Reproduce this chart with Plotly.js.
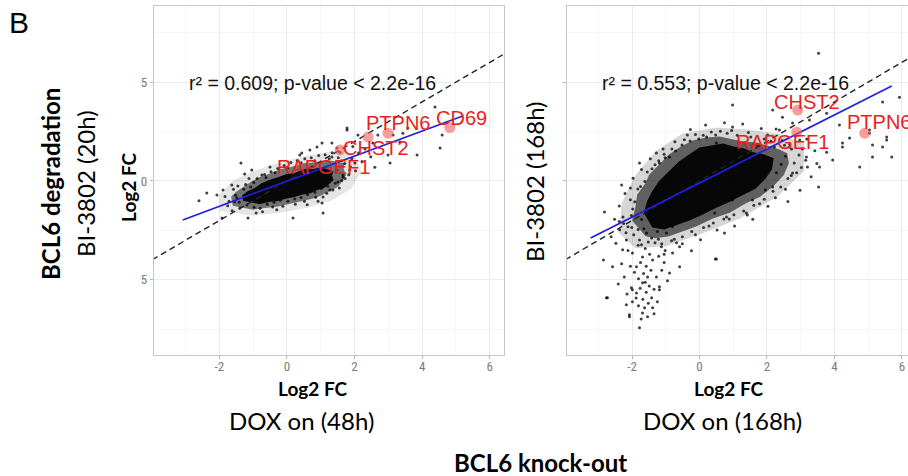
<!DOCTYPE html>
<html>
<head>
<meta charset="utf-8">
<script src="https://cdn.plot.ly/plotly-3.0.1.min.js"></script>
<style>
html,body{margin:0;padding:0;overflow:hidden;background:#fff;width:908px;height:476px;}
#chart{width:916px;height:476px;}
</style>
</head>
<body>
<div id="chart"></div>
<script>
// ---------------- DATA ----------------
const xTickVals = [-2, 0, 2, 4, 6];
const xTickText = ['-2', '0', '2', '4', '6'];
const yTickVals = [-5, 0, 5];
const yTickText = ['5', '0', '5'];

// Panel 1: DOX on (48h) vs BI-3802 (20h)
const leftStat = 'r² = 0.609; p-value < 2.2e-16';
const leftFitX = [-3.08, 5.18];
const leftFitY = [-1.97, 3.28];
const identityX = [-5, 8];
const identityY = [-5, 8];
// outlines of the region where the points merge into a solid cloud
const leftCore = [[-1.3,-1.0],[-1.05,-1.1],[-0.8,-1.18],[-0.5,-1.05],[-0.3,-1.02],[0.0,-0.88],[0.2,-0.82],[0.45,-0.7],[0.7,-0.62],[0.9,-0.45],[1.1,-0.36],[1.25,-0.15],[1.38,0.05],[1.33,0.3],[1.38,0.48],[1.15,0.62],[1.0,0.68],[0.75,0.6],[0.5,0.6],[0.25,0.42],[0.0,0.36],[-0.25,0.2],[-0.5,0.06],[-0.75,-0.12],[-0.95,-0.36],[-1.15,-0.5],[-1.32,-0.72]];
const leftMid = [[-1.6,-1.25],[-1.25,-1.35],[-1.0,-1.45],[-0.6,-1.35],[-0.3,-1.3],[0.1,-1.15],[0.4,-1.05],[0.75,-0.9],[1.0,-0.75],[1.3,-0.5],[1.5,-0.3],[1.65,0.0],[1.75,0.3],[1.68,0.62],[1.7,0.9],[1.45,0.98],[1.2,1.05],[0.85,0.95],[0.5,0.9],[0.15,0.72],[-0.2,0.6],[-0.5,0.38],[-0.8,0.2],[-1.05,-0.02],[-1.3,-0.3],[-1.5,-0.55],[-1.65,-0.8]];
const leftOuter = [[-2.0,-1.5],[-1.1,-1.75],[-0.2,-1.6],[0.6,-1.35],[1.3,-1.0],[1.9,-0.4],[2.2,0.5],[2.0,1.35],[1.3,1.5],[0.5,1.25],[-0.3,0.9],[-1.0,0.5],[-1.6,0.0],[-2.0,-0.7]];
// individual genes outside the dense core
const leftPts = [[-2.37,-0.61],[-2.07,-0.71],[-1.89,-0.45],[-1.92,-1.87],[-1.39,-1.36],[-1.36,0.91],[-1.04,0.56],[-1.63,-0.2],[-1.48,-0.86],[-0.74,0.3],[-0.5,0.71],[0.18,-1.87],[-1.15,-1.87],[1.07,-0.81],[1.04,-1.11],[1.36,-0.45],[1.51,-0.05],[1.66,0.2],[1.04,1.92],[1.33,1.92],[0.68,1.57],[0.44,1.41],[0.89,1.72],[1.48,1.67],[1.86,0.56],[2.01,0.91],[1.07,-1.62],[1.78,2.58],[2.1,2.32],[2.54,1.92],[2.99,1.31],[3.85,1.31],[4.53,1.67],[3.58,2.68],[3.14,2.32],[1.57,1.46],[1.33,1.21],[1.48,0.56],[1.66,0.3],[1.27,-0.45],[3.05,0.91],[4.59,2.32],[1.78,2.68],[3.43,2.42],[3.34,1.97],[2.69,2.32],[4.38,3.74],
[-1.52,-0.72],[-1.41,-1.08],[-1.28,-0.42],[-1.18,-1.22],[-1.07,-0.31],[-0.97,-1.33],[-0.88,0.12],[-0.79,-1.38],[-0.66,0.33],[-0.58,-1.17],[-0.47,0.47],[-0.38,-1.08],[-0.27,0.63],[-0.19,-0.98],[-0.08,0.78],[0.03,-1.02],[0.12,0.93],[0.23,-0.91],[0.31,1.04],[0.42,-0.83],[0.53,1.12],[0.61,-0.68],[0.72,1.18],[0.83,-0.57],[0.94,1.29],[1.02,-0.38],[1.13,1.33],[1.21,-0.27],[1.34,1.43],[1.43,-0.12],[1.52,1.18],[1.62,0.03],[1.71,0.88],[1.83,0.31],[1.92,1.12],[2.03,0.52],[2.12,1.41],[2.22,0.98],[2.31,1.62],[2.48,1.22],[-1.71,-1.02],[-1.83,-0.78],[-1.62,-1.51],[-0.91,-1.62],[0.38,1.31],[0.92,-1.02],[-2.6,-1.0],[-0.3,-1.45],[0.6,-1.2],[2.6,0.7],[-1.25,0.35],[1.95,1.75],
[-1.75,-1.25],[-1.55,-1.05],[-1.45,-0.25],[-1.12,0.12],[-0.72,-1.55],[-0.42,-1.32],[-0.12,-1.28],[0.25,-1.18],[0.52,-1.02],[0.85,-0.82],[1.18,-0.62],[1.55,-0.35],[1.72,0.12],[1.88,0.72],[1.62,1.02],[1.25,1.12],[0.82,1.02],[0.42,0.92],[0.02,0.66],[-0.35,0.42],[-0.62,0.18],[-0.98,-0.08],[-1.22,-0.18],[-1.58,-0.42]];
const leftGenes = ['CD69', 'PTPN6', 'PTPN6', 'CHST2'];
const leftGeneX = [4.82, 2.99, 2.40, 1.57];
const leftGeneY = [2.70, 2.42, 2.22, 1.57];
const leftLabels = ['CD69', 'PTPN6', 'CHST2', 'RAPGEF1'];
const leftLabelX = [5.15, 3.28, 2.63, 1.07];
const leftLabelY = [3.18, 2.93, 1.67, 0.71];

// Panel 2: DOX on (168h) vs BI-3802 (168h)
const rightStat = 'r² = 0.553; p-value < 2.2e-16';
const rightFitX = [-3.23, 5.70];
const rightFitY = [-2.88, 4.80];
const rightCore = [[-1.65,-1.6],[-1.55,-1.0],[-1.4,-0.5],[-1.2,0.0],[-0.9,0.5],[-0.6,1.0],[-0.3,1.35],[0.0,1.7],[0.35,1.8],[0.7,1.9],[1.0,1.75],[1.3,1.65],[1.6,1.45],[1.9,1.35],[2.2,1.15],[2.15,0.6],[1.95,0.1],[1.65,-0.4],[1.3,-0.7],[0.9,-1.05],[0.5,-1.35],[0.1,-1.7],[-0.3,-2.0],[-0.7,-2.25],[-1.05,-2.45],[-1.4,-2.35]];
const rightMid = [[-2.0,-2.0],[-1.9,-1.3],[-1.85,-0.7],[-1.6,-0.1],[-1.5,0.3],[-1.2,0.85],[-0.9,1.35],[-0.55,1.75],[-0.2,2.05],[0.2,2.2],[0.6,2.25],[1.0,2.1],[1.3,2.0],[1.7,1.95],[2.0,1.8],[2.35,1.6],[2.6,1.4],[2.65,0.9],[2.5,0.3],[2.2,-0.25],[1.8,-0.8],[1.35,-1.15],[0.9,-1.6],[0.4,-1.9],[-0.1,-2.3],[-0.5,-2.55],[-0.9,-2.8],[-1.3,-2.9],[-1.6,-2.8]];
const rightOuter = [[-2.4,-2.6],[-2.3,-1.1],[-1.9,0.3],[-1.3,1.5],[-0.5,2.4],[0.5,2.7],[1.4,2.6],[2.3,2.4],[3.1,1.9],[3.1,0.5],[2.3,-0.8],[1.2,-1.9],[0.0,-2.7],[-1.0,-3.3],[-1.9,-3.4]];
const rightPts = [[0.98,3.84],[3.53,6.46],[2.17,3.59],[2.46,3.23],[3.26,3.08],[3.77,3.43],[4.15,2.83],[4.45,2.17],[4.24,1.72],[5.13,1.82],[5.55,2.07],[5.43,3.99],[5.93,4.24],[5.70,1.21],[3.95,1.06],[3.56,0.71],[3.17,1.21],[2.67,1.72],[2.76,2.93],[2.37,2.58],[2.97,2.07],[4.75,0.71],[5.04,2.58],
[3.53,-0.30],[2.17,-0.3],[2.76,0.40],[3.2,0.71],[1.57,-0.96],[1.39,-1.62],[0.98,-0.96],[0.47,-3.94],[0.80,-1.82],[3.77,1.46],[4.24,1.92],[5.43,1.72],[5.13,1.21],[5.55,2.22],[5.04,2.42],
[-2.31,-0.2],[-2.82,-1.57],[-1.78,0.91],[-1.19,0.91],[-0.89,1.21],[-0.36,2.32],[0.21,2.22],[0.98,2.73],[0.5,1.92],
[-2.58,-4.34],[-2.76,-5.9],[-2.08,-6.77],[-1.78,-7.42],[-1.63,-6.41],[-1.39,-6.41],[-1.25,-6.11],[-0.89,-4.65],[-0.80,-3.64],[-0.59,-3.33],[-2.23,-4.85],[-2.02,-5.4],[-1.87,-4.34],[-1.69,-3.84],[-1.54,-4.85],[-1.39,-3.99],[-1.13,-3.33],[-1.78,-2.98],[-2.17,-2.98],[-1.99,-3.64],[-1.87,-5.66],[-1.69,-5.15],[-1.19,-5.35],[-1.42,-5.9],[-2.17,-6.26],[-1.99,-6.11],[-1.54,-6.87],[-1.28,-4.85],[-1.57,-2.63],[-2.37,-2.47],[-0.98,-2.63],[-0.80,-2.32],[-0.39,-1.97],[0,-1.62],[0.45,-1.62],
[-2.28,-3.48],[-1.99,-5.5],[-1.69,-6.67],[-2.08,-6.87],[-2.85,-3.99],[-2.73,-5.9],[-1.19,-5.5],[-0.59,-4.34],[0.50,-3.94],[0.74,-2.63],[-0.24,-3.53],
[-1.82,-3.25],[-1.61,-3.42],[-1.48,-3.71],[-1.75,-4.12],[-1.58,-4.31],[-1.93,-4.62],[-1.66,-4.68],[-1.44,-4.52],[-1.81,-4.95],[-1.61,-5.12],[-1.49,-5.31],[-1.76,-5.42],[-1.58,-5.63],[-1.35,-5.48],[-1.88,-5.92],[-1.68,-5.98],[-1.52,-6.18],[-1.81,-6.31],[-1.32,-3.12],[-1.21,-3.81],[-1.05,-4.12],[-2.12,-3.52],[-2.31,-4.18],[-2.05,-4.31],[-2.41,-5.21],[-2.15,-5.71],[-1.42,-2.88],[-1.95,-2.72],[-1.65,-2.41],[-2.01,-2.35],[-1.25,-2.55],[-0.75,-2.95],[-1.05,-3.71],[-1.73,-6.98],[-1.35,-6.72],[-2.48,-3.15],[-2.62,-2.82],[-2.25,-2.15],[-1.12,-4.52],[-0.95,-5.05],
[-2.52,-1.93],[-2.38,-1.27],[-2.21,-0.63],[-1.97,0.14],[-1.72,0.58],[-1.46,1.13],[-1.08,1.62],[-0.73,1.98],[-0.27,2.61],[0.18,2.83],[0.74,2.94],[1.28,2.88],[1.83,2.66],[2.27,2.63],[2.84,2.27],[3.18,2.12],[3.42,1.53],[3.48,0.88],[3.31,0.22],[2.98,-0.47],[2.62,-1.04],[2.03,-1.28],[1.58,-1.93],[1.04,-2.27],[0.52,-2.48],[0.03,-2.97],[-0.51,-3.18],[-1.02,-3.52],
[-2.12,-2.31],[-1.98,-1.42],[-1.83,-0.41],[-1.41,0.62],[-1.02,1.18],[-0.52,1.82],[0.11,2.31],[0.82,2.42],[1.52,2.22],[2.12,2.01],[2.73,1.62],[2.81,0.91],[2.62,0.12],[2.18,-0.52],[1.61,-1.23],[1.02,-1.71],[0.41,-2.12],[-0.23,-2.55],[-0.83,-3.02],[-1.52,-3.08],
[-2.27,-1.82],[-2.05,-0.95],[-1.62,-0.02],[-1.21,1.02],[-0.71,1.52],[-0.02,2.12],[0.62,2.52],[1.12,2.31],[1.92,2.13],[2.52,1.81],[2.95,1.31],[2.88,0.42],[2.41,-0.31],[1.92,-0.92],[1.31,-1.52],[0.72,-1.92],[0.12,-2.35],[-0.51,-2.82],[-1.22,-2.95],
[-2.18,-2.62],[-2.02,-1.75],[-1.92,-1.05],[-1.75,-0.28],[-1.55,0.45],[-1.32,0.82],[-1.05,1.35],[-0.82,1.62],[-0.45,2.08],[-0.12,2.35],[0.35,2.48],[0.95,2.55],[1.45,2.45],[2.02,2.32],[2.45,2.05],[2.68,1.85],[3.05,1.62],[3.15,1.05],[3.02,0.68],[2.72,0.28],[2.55,-0.42],[2.25,-0.85],[1.78,-1.15],[1.42,-1.72],[0.88,-1.92],[0.28,-2.28],[-0.12,-2.72],[-0.68,-3.12],[-1.12,-3.18],[-1.72,-3.22],
[2.42,0.85],[2.55,1.25],[2.28,0.42],[1.95,-0.45],[-1.72,-1.95],[-1.82,-2.45],[-2.38,-2.05],[-2.05,-0.35],[-1.28,1.42],[-0.28,2.02],[0.48,2.32],[1.72,1.82],[2.22,1.72]];
const rightGenes = ['CHST2', 'PTPN6', 'RAPGEF1'];
const rightGeneX = [2.91, 4.90, 2.88];
const rightGeneY = [3.59, 2.42, 2.47];
const rightLabels = ['CHST2', 'PTPN6', 'RAPGEF1'];
const rightLabelX = [3.18, 5.31, 2.46];
const rightLabelY = [3.99, 2.98, 1.97];

// ---------------- TRACES ----------------
const W = 916, H = 476;
const px = v => v / W;
const py = v => 1 - v / H;

function hull(pts, xa, ya, fill) {
  return {x: pts.map(p => p[0]).concat([pts[0][0]]), y: pts.map(p => p[1]).concat([pts[0][1]]),
    xaxis: xa, yaxis: ya, mode: 'lines', fill: 'toself', fillcolor: fill,
    line: {width: 0, color: 'rgba(0,0,0,0)'}, hoverinfo: 'skip', showlegend: false, type: 'scatter'};
}
function dots(pts, xa, ya) {
  return {x: pts.map(p => p[0]), y: pts.map(p => p[1]), xaxis: xa, yaxis: ya, mode: 'markers',
    marker: {size: 3, color: 'rgba(0,0,0,0.75)'}, showlegend: false, type: 'scatter'};
}
function line(xs, ys, xa, ya, color, dash, width) {
  return {x: xs, y: ys, xaxis: xa, yaxis: ya, mode: 'lines', line: {color: color, dash: dash, width: width},
    showlegend: false, type: 'scatter', hoverinfo: 'skip'};
}
function genes(xs, ys, names, xa, ya) {
  return {x: xs, y: ys, text: names, xaxis: xa, yaxis: ya, mode: 'markers',
    marker: {size: 11, color: 'rgba(245,90,90,0.6)'}, showlegend: false, type: 'scatter'};
}

const traces = [
  hull(leftOuter, 'x', 'y', 'rgba(0,0,0,0.1)'),
  hull(leftMid, 'x', 'y', 'rgba(0,0,0,0.5)'),
  hull(leftCore, 'x', 'y', 'rgba(0,0,0,0.93)'),
  dots(leftPts, 'x', 'y'),
  line(identityX, identityY, 'x', 'y', '#222', '6px,4px', 1.4),
  line(leftFitX, leftFitY, 'x', 'y', '#1f1fe0', 'solid', 1.6),
  genes(leftGeneX, leftGeneY, leftGenes, 'x', 'y'),
  hull(rightOuter, 'x2', 'y2', 'rgba(0,0,0,0.16)'),
  hull(rightMid, 'x2', 'y2', 'rgba(0,0,0,0.55)'),
  hull(rightCore, 'x2', 'y2', 'rgba(0,0,0,0.93)'),
  dots(rightPts, 'x2', 'y2'),
  line(identityX, identityY, 'x2', 'y2', '#222', '6px,4px', 1.4),
  line(rightFitX, rightFitY, 'x2', 'y2', '#1f1fe0', 'solid', 1.6),
  genes(rightGeneX, rightGeneY, rightGenes, 'x2', 'y2')
];

// ---------------- LAYOUT ----------------
const tickFont = {family: 'Liberation Sans Narrow, Roboto Condensed, Liberation Sans, sans-serif', size: 13, color: '#7a7a7a'};
function xAxis(domain, anchor) {
  return {domain: domain, anchor: anchor, range: [-3.93, 6.42], tickmode: 'array', tickvals: xTickVals, ticktext: xTickText,
    ticks: 'outside', ticklen: 3, tickcolor: '#b5b5b5', tickfont: tickFont, ticklabelstandoff: -4,
    showgrid: true, gridcolor: '#ececec', gridwidth: 1,
    minor: {tickmode: 'array', tickvals: [-3, -1, 1, 3, 5], showgrid: true, gridcolor: '#f6f6f6', ticks: ''},
    zeroline: false, showline: true, mirror: true, linecolor: '#c6c6c6', linewidth: 1.2};
}
function yAxis(domain, anchor, labels) {
  return {domain: domain, anchor: anchor, range: [-8.8, 8.85], tickmode: 'array', tickvals: yTickVals, ticktext: yTickText,
    showticklabels: labels, ticks: 'outside', ticklen: 3, tickcolor: '#b5b5b5', tickfont: tickFont, showgrid: true, gridcolor: '#ececec',
    minor: {tickmode: 'array', tickvals: [-7.5, -2.5, 2.5, 7.5], showgrid: true, gridcolor: '#f6f6f6', ticks: ''},
    zeroline: false, showline: true, mirror: true, linecolor: '#c6c6c6', linewidth: 1.2};
}
const yDom = [py(355), py(6)];

const red = 'rgb(235,30,30)';
const labelFont = {family: 'Liberation Sans, Arial, sans-serif', size: 20, color: red};
const statFont = {family: 'Liberation Sans, Arial, sans-serif', size: 19.5, color: '#111'};
const boldFont = s => ({family: 'Lato, Open Sans, sans-serif', size: s, color: '#000', weight: 'bold'});
const regFont = s => ({family: 'Lato, Open Sans, sans-serif', size: s, color: '#000'});

const annotations = [];
leftLabels.forEach((t, i) => annotations.push({x: leftLabelX[i], y: leftLabelY[i], xref: 'x', yref: 'y', text: t, showarrow: false, xanchor: 'center', yanchor: 'middle', font: labelFont}));
rightLabels.forEach((t, i) => annotations.push({x: rightLabelX[i], y: rightLabelY[i], xref: 'x2', yref: 'y2', text: t, showarrow: false, xanchor: 'center', yanchor: 'middle', font: labelFont}));
function paperText(x, y, text, font, angle) {
  annotations.push({x: px(x), y: py(y), xref: 'paper', yref: 'paper', text: text, showarrow: false,
    xanchor: 'center', yanchor: 'middle', textangle: angle || 0, font: font});
}
paperText(312, 83, leftStat, statFont);
paperText(725, 83, rightStat, statFont);
paperText(19, 22, 'B', {family: 'Liberation Sans, Arial, sans-serif', size: 30, color: '#000'});
paperText(51, 184, 'BCL6 degradation', boldFont(24), -90);
paperText(86, 184, 'BI-3802 (20h)', regFont(24), -90);
paperText(129, 187, 'Log2 FC', boldFont(19), -90);
paperText(534, 182, 'BI-3802 (168h)', regFont(24), -90);
paperText(313, 388, 'Log2 FC', boldFont(19));
paperText(729, 388, 'Log2 FC', boldFont(19));
paperText(301, 420, 'DOX on (48h)', regFont(24));
paperText(722, 420, 'DOX on (168h)', regFont(24));
paperText(540, 462, 'BCL6 knock-out', boldFont(24));

const layout = {
  width: W, height: H, margin: {l: 0, r: 0, t: 0, b: 0, pad: 0},
  paper_bgcolor: '#fff', plot_bgcolor: '#fff', showlegend: false,
  xaxis: xAxis([px(154), px(504)], 'y'),
  yaxis: yAxis(yDom, 'x', true),
  xaxis2: xAxis([px(567), 1], 'y2'),
  yaxis2: yAxis(yDom, 'x2', false),
  annotations: annotations
};
Plotly.newPlot('chart', traces, layout, {staticPlot: true, displayModeBar: false});
</script>
</body>
</html>
